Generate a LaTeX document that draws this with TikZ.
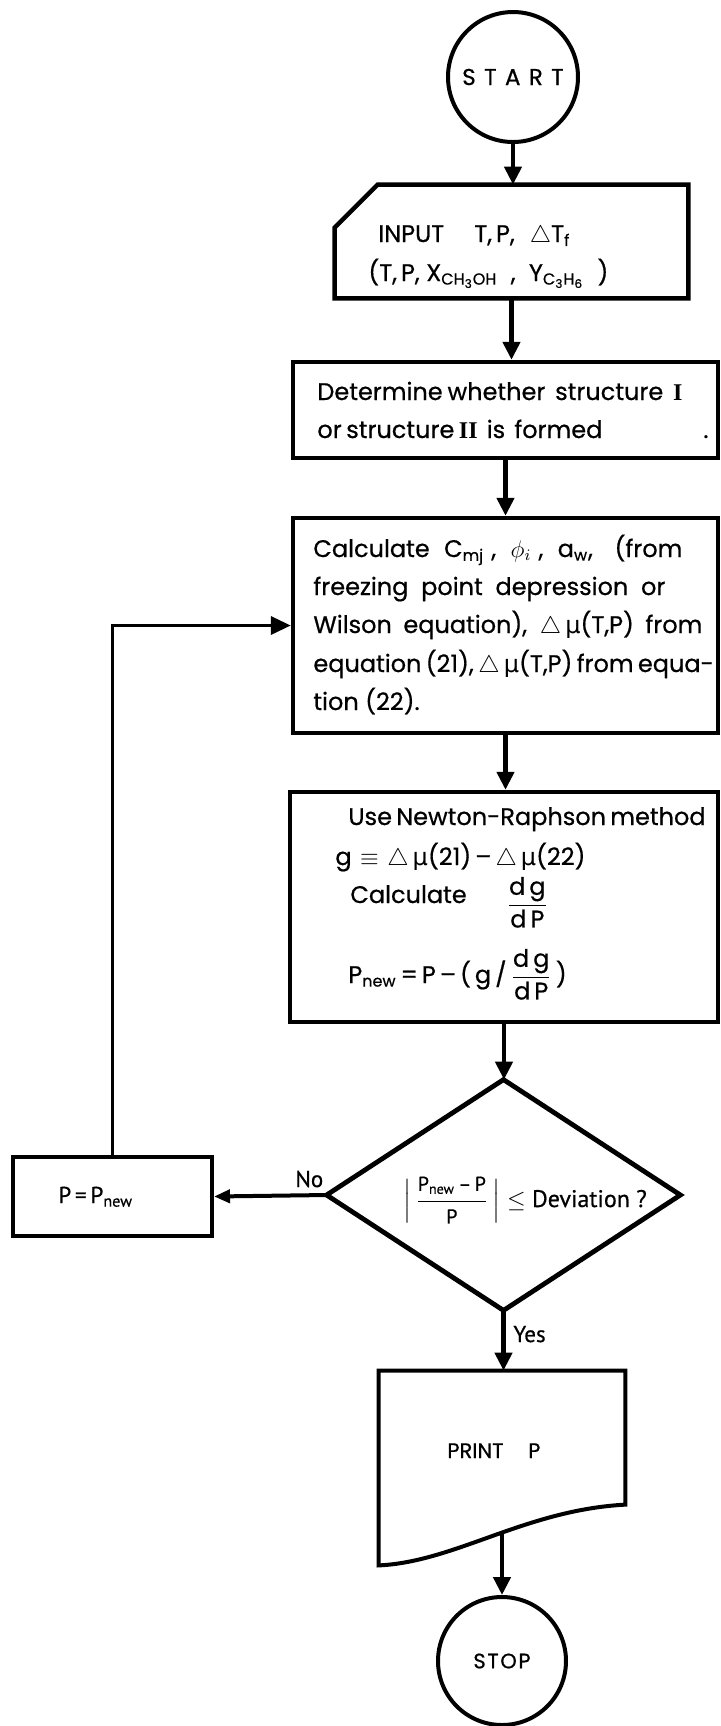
\documentclass[tikz,border=0pt]{standalone}
\usepackage{amsmath}
\usepackage{graphicx}
\usepackage{fontspec}
\setmainfont{Poppins}[FakeBold=0.6]
\newfontfamily\narrowfont{PT Sans}[FakeBold=0.6]
\newfontfamily\dvsfont{DejaVu Sans}
\newfontfamily\romfont{Liberation Serif}
\usetikzlibrary{arrows.meta,fit,calc}

\newcommand{\mytri}{\ensuremath{\triangle}}
\newcommand{\mymu}{{\dvsfont μ}}
\newcommand{\dmu}{\mytri\,\mymu}
\newcommand{\romI}{{\romfont\bfseries I}}
\newcommand{\romII}{{\romfont\bfseries II}}
\newcommand{\linefit}[2]{\makebox[#1][s]{#2}}
\newcommand{\dgdp}{\ensuremath{\dfrac{\text{d\,g}}{\text{d\,P}}}}
\newcommand{\mainsize}{\fontsize{12}{14}\selectfont}
\newcommand{\tk}{\kern4.2pt}

\begin{document}
\begin{tikzpicture}[x=0.5pt,y=-0.5pt,
  box/.style={draw, line width=2.2pt, inner sep=0pt},
  frame/.style={inner sep=0pt},
  arr/.style={line width=2.2pt, -{Triangle[width=8.5pt,length=9pt]}},
  thinarr/.style={line width=1.8pt, -{Triangle[width=9pt,length=10pt]}},
  smallarr/.style={line width=2pt, -{Triangle[width=6.5pt,length=8pt]}},
  term/.style={circle, draw, line width=2pt, inner sep=0pt},
  txt/.style={inner sep=0pt, anchor=base west, font=\mainsize},
  lbl/.style={inner sep=0pt, anchor=base west, font=\narrowfont\fontsize{11.5}{13}\selectfont},
]
\useasboundingbox (0,0) rectangle (721,1726);

% START
\node[term, minimum size=65pt, font=\fontsize{11.5}{13}\selectfont] (start) at (513,77) {S\tk T\tk A\tk R\tk T};

% INPUT (card shape)
\node[frame, fit={(335,185) (688,298)}] (input) {};
\draw[line width=2.2pt] ($(input.north west)+(43,0)$) -- (input.north east) -- (input.south east) -- (input.south west) -- ($(input.north west)+(0,43)$) -- cycle;
\node[txt] (in1) at (378,242) {\linefit{96pt}{INPUT\ \ T,\,P,\ \mytri T\textsubscript{f}}};
\node[txt] (in2) at (368,281) {\linefit{120pt}{(T,\,P,\ X\textsubscript{CH\textsubscript{3}OH}\ \ ,\ \ Y\textsubscript{C\textsubscript{3}H\textsubscript{6}}\ \ )}};

% structure box
\node[box, fit={(293,362) (718,458)}] (struct) {};
\node[txt] (s1) at (317,400) {\linefit{182.5pt}{Determine\ whether\ \ structure\ \ \romI}};
\node[txt] (s2) at (317,438) {\linefit{142.5pt}{or structure \romII\ \ is\ \ formed}};
\node[txt] (sdot) at (703,438) {.};

% calculate box
\node[box, fit={(293,518) (718,733)}] (calc) {};
\node[txt] (c1) at (313,557) {\linefit{184.5pt}{Calculate\ \ C\textsubscript{mj}\ ,\ \ $\phi_i$\ ,\ \ a\textsubscript{w},\ \ \ (from}};
\node[txt] (c2) at (313,595) {\linefit{176pt}{freezing point depression or}};
\node[txt] (c3) at (313,633) {\linefit{194.5pt}{Wilson equation), \dmu(T,P) from}};
\node[txt] (c4) at (313,672) {\linefit{198pt}{equation (21), \dmu(T,P) from equa-}};
\node[txt] (c5) at (313,710) {tion (22).};

% Newton-Raphson box
\node[box, fit={(290,792) (718,1022)}] (newton) {};
\node[txt] (n1) at (348,825) {\linefit{169.5pt}{Use Newton-Raphson method}};
\node[txt] (n2) at (335,865) {\linefit{116pt}{g\ \ $\equiv$\ \ \dmu(21)\,\textendash\,\dmu(22)}};
\node[txt] (n3) at (350,903) {Calculate\hspace{20pt}\raisebox{-4pt}{\dgdp}};
\node[txt] (n4) at (348,983) {P\textsubscript{new}\,=\,P\,\textendash\,(\,g\,/\,\dgdp\,)};

% decision
\node[frame, fit={(327,1080) (680,1310)}] (dec) {};
\draw[line width=2.4pt] (dec.north) -- (dec.east) -- (dec.south) -- (dec.west) -- cycle;
\node[inner sep=0pt, anchor=base west, font=\narrowfont\fontsize{12}{14}\selectfont] (dectxt) at (403,1207)
  {$\Bigl|\,\dfrac{\text{\fontsize{10}{11}\selectfont P\textsubscript{new}\,\textendash\,P}}{\text{\fontsize{10}{11}\selectfont P}}\,\Bigr|\leq$ Deviation ?};

% P = Pnew box
\node[box, line width=2pt, fit={(13,1157) (212,1236)}] (pnew) {};
\node[lbl] (pnewtxt) at (58,1203) {P\,=\,P\textsubscript{new}};

% PRINT (document shape)
\node[frame, fit={(379,1371) (625,1565)}] (print) {};
\draw[line width=2pt] (print.north west) -- (print.north east) -- ($(print.north east)+(0,134)$)
  .. controls (525,1510) and (455,1562) .. (print.south west) -- cycle;
\node[txt, font=\fontsize{10.5}{12}\selectfont] (ptxt) at (447,1458) {\linefit{46.5pt}{PRINT\ \ P}};
\coordinate (printout) at (502,1531);

% STOP
\node[term, minimum size=64pt, font=\fontsize{10.5}{12}\selectfont] (stop) at (502,1661) {S\kern0.8pt T\kern0.8pt O\kern0.8pt P};

% labels
\node[lbl] (yes) at (513,1342) {Yes};
\node[lbl] (no) at (295,1187) {No};

% connectors
\draw[arr] (start.south) -- (start.south |- input.north);
\draw[arr] (input.south) -- (input.south |- struct.north);
\draw[arr] (struct.south) -- (calc.north);
\draw[arr] (calc.south) -- (calc.south |- newton.north);
\draw[arr] (newton.south) -- (newton.south |- dec.north);
\draw[arr] (dec.south) -- (dec.south |- print.north);
\draw[smallarr] (dec.west) -- (pnew.east);
\draw[thinarr] (pnew.north) |- (calc.west);
\draw[arr] (printout) -- (stop.north);
\end{tikzpicture}
\end{document}
